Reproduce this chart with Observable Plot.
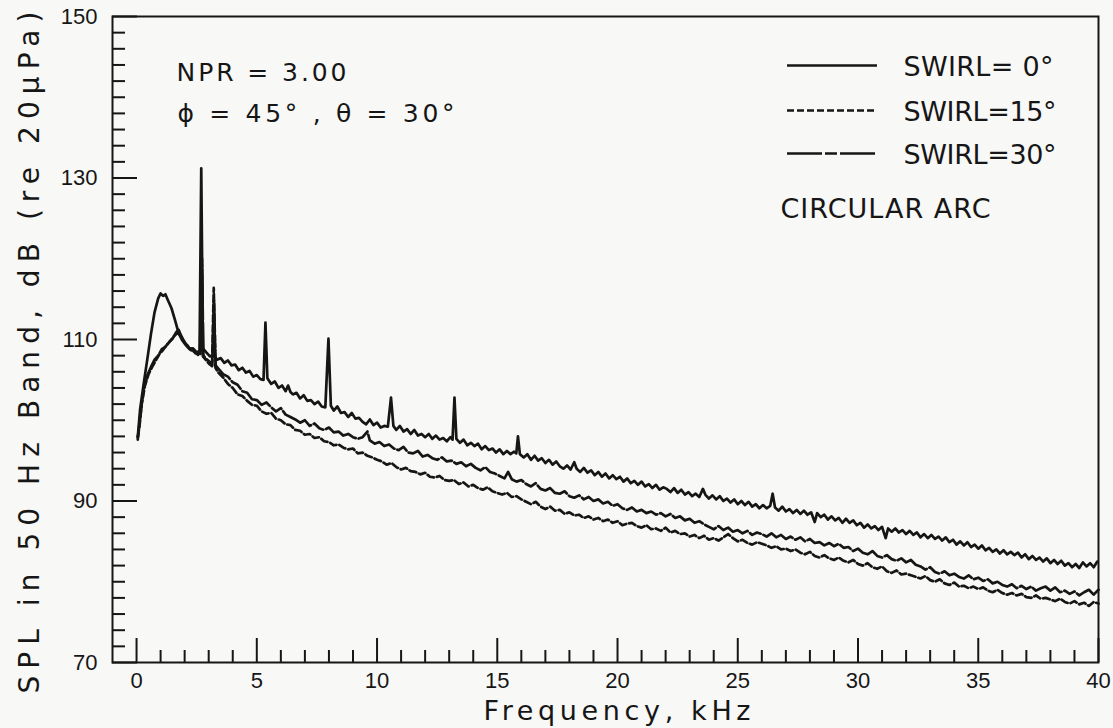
<!DOCTYPE html>
<html><head><meta charset="utf-8">
<script src="https://cdn.jsdelivr.net/npm/d3@7"></script>
<script src="https://cdn.jsdelivr.net/npm/@observablehq/plot@0.6"></script>
<style>html,body{margin:0;padding:0;background:#f8f8f6;}#chart{width:1113px;height:728px;}</style>
</head><body><div id="chart"></div>
<script>
// ---------------- DATA ----------------
const seriesLabels = ["SWIRL= 0°", "SWIRL=15°", "SWIRL=30°"];
const xMajor = [0, 5, 10, 15, 20, 25, 30, 35, 40];
const yMajor = [70, 90, 110, 130, 150];
const xTitle = "Frequency, kHz";
const yTitle = "SPL in 50 Hz Band, dB (re 20μPa)";
const noteLines = ["NPR = 3.00", "ϕ = 45° , θ = 30°"];
const configLabel = "CIRCULAR ARC";

// [frequency kHz, SPL dB]
const swirl0 = [[0.05,97.9],[0.15,101.4],[0.3,104.6],[0.45,107.6],[0.6,110.7],[0.75,113.4],[0.9,115.1],[1.0,115.7],[1.1,115.4],[1.2,115.6],[1.3,114.9],[1.45,113.9],[1.6,112.4],[1.75,110.8],[1.9,109.9],[2.05,109.3],[2.2,108.8],[2.35,108.9],[2.5,108.4],[2.62,108.6],[2.69,131.2],[2.76,108.9],[2.9,108.4],[3.05,107.9],[3.2,108.1],[3.35,107.5],[3.5,107.7],[3.65,107.1],[3.8,107.4],[3.95,106.8],[4.1,106.9],[4.25,106.2],[4.4,106.5],[4.55,105.9],[4.7,106.1],[4.85,105.4],[5.0,105.6],[5.15,105.1],[5.28,105.0],[5.36,112.1],[5.44,105.2],[5.6,104.5],[5.75,104.8],[5.9,104.0],[6.05,104.3],[6.2,103.6],[6.3,104.3],[6.4,103.5],[6.5,103.2],[6.65,103.4],[6.8,102.7],[6.95,103.1],[7.1,102.4],[7.25,102.5],[7.4,102.0],[7.55,102.3],[7.7,101.7],[7.85,101.6],[7.98,110.1],[8.08,101.8],[8.2,101.2],[8.35,101.7],[8.5,100.9],[8.65,101.0],[8.8,100.4],[8.95,100.9],[9.1,100.2],[9.25,100.3],[9.4,99.8],[9.55,99.5],[9.7,100.1],[9.85,99.4],[10.0,99.7],[10.15,99.1],[10.3,99.3],[10.45,99.2],[10.58,102.8],[10.68,99.3],[10.8,98.8],[10.95,99.3],[11.1,98.6],[11.25,98.9],[11.4,98.3],[11.55,98.8],[11.7,98.1],[11.85,98.3],[12.0,97.9],[12.15,98.3],[12.3,97.7],[12.45,98.1],[12.6,97.6],[12.75,97.8],[12.9,97.4],[13.05,97.9],[13.14,97.6],[13.22,102.8],[13.3,97.7],[13.45,97.2],[13.6,97.6],[13.75,96.9],[13.9,97.2],[14.05,96.8],[14.2,97.1],[14.35,96.4],[14.5,96.8],[14.65,96.3],[14.8,96.5],[14.95,96.0],[15.1,96.4],[15.25,95.8],[15.4,96.2],[15.55,95.8],[15.7,96.1],[15.79,95.9],[15.86,98.0],[15.94,95.8],[16.1,95.4],[16.25,95.8],[16.4,95.1],[16.55,95.6],[16.7,95.0],[16.85,95.3],[17.0,94.7],[17.15,95.1],[17.3,94.5],[17.45,94.9],[17.6,94.3],[17.75,94.0],[17.9,94.4],[18.05,93.9],[18.2,94.8],[18.3,94.0],[18.45,93.6],[18.6,94.1],[18.75,93.5],[18.9,93.8],[19.05,93.2],[19.2,93.6],[19.35,93.0],[19.5,93.4],[19.65,92.8],[19.8,93.2],[19.95,92.7],[20.1,93.0],[20.25,92.4],[20.4,92.8],[20.55,92.2],[20.7,92.5],[20.85,92.0],[21.0,92.4],[21.15,91.8],[21.3,92.1],[21.45,91.6],[21.6,92.0],[21.75,91.4],[21.9,91.7],[22.05,91.5],[22.2,91.1],[22.35,91.6],[22.5,91.0],[22.65,91.4],[22.8,90.8],[22.95,91.1],[23.1,90.6],[23.25,90.9],[23.4,90.5],[23.55,91.5],[23.65,90.8],[23.8,90.3],[23.95,90.7],[24.1,90.2],[24.25,90.6],[24.4,90.0],[24.55,90.3],[24.7,89.8],[24.85,90.2],[25.0,89.6],[25.15,90.0],[25.3,89.5],[25.45,89.9],[25.6,89.3],[25.75,89.6],[25.9,89.1],[26.05,89.5],[26.2,89.1],[26.35,89.4],[26.45,90.9],[26.55,89.2],[26.7,88.8],[26.85,89.3],[27.0,88.7],[27.15,89.0],[27.3,88.5],[27.45,88.9],[27.6,88.4],[27.75,88.8],[27.9,88.3],[28.05,88.6],[28.2,87.4],[28.3,88.5],[28.45,88.0],[28.6,88.3],[28.75,87.7],[28.9,88.1],[29.05,87.6],[29.2,87.9],[29.35,87.3],[29.5,87.8],[29.65,87.3],[29.8,87.6],[29.95,87.0],[30.1,87.3],[30.25,86.7],[30.4,87.1],[30.55,86.6],[30.7,86.9],[30.85,86.4],[31.0,86.8],[31.15,85.4],[31.25,86.6],[31.4,86.2],[31.55,86.6],[31.7,86.1],[31.85,86.4],[32.0,85.9],[32.15,86.3],[32.3,85.8],[32.45,86.1],[32.6,85.5],[32.75,85.9],[32.9,85.4],[33.05,85.8],[33.2,85.3],[33.35,85.6],[33.5,85.1],[33.65,85.5],[33.8,84.9],[33.95,85.2],[34.1,84.6],[34.25,85.0],[34.4,84.5],[34.55,84.9],[34.7,84.3],[34.85,84.6],[35.0,84.1],[35.15,84.5],[35.3,83.9],[35.45,84.2],[35.6,83.7],[35.75,84.0],[35.9,83.5],[36.05,83.9],[36.2,83.4],[36.35,83.7],[36.5,83.3],[36.65,83.6],[36.8,83.0],[36.95,83.4],[37.1,82.8],[37.25,83.2],[37.4,82.7],[37.55,83.0],[37.7,82.5],[37.85,82.9],[38.0,82.3],[38.15,82.7],[38.3,82.2],[38.45,82.6],[38.6,82.0],[38.75,82.3],[38.9,81.8],[39.05,82.2],[39.2,81.7],[39.35,82.4],[39.5,81.9],[39.65,82.3],[39.8,81.8],[39.95,82.5]];

const swirl15 = [[0.05,97.9],[0.12,99.2],[0.22,102.1],[0.35,104.3],[0.5,105.7],[0.65,106.6],[0.8,107.4],[0.95,108.2],[1.1,108.7],[1.25,109.3],[1.4,109.8],[1.55,110.4],[1.7,110.8],[1.8,110.6],[1.95,109.9],[2.1,109.3],[2.25,108.7],[2.4,108.5],[2.55,108.1],[2.64,108.3],[2.7,122.0],[2.76,107.9],[2.9,107.4],[3.05,106.9],[3.14,106.7],[3.21,116.4],[3.28,106.5],[3.4,105.9],[3.6,105.3],[3.8,104.5],[4.0,104.0],[4.2,103.2],[4.4,103.0],[4.6,102.4],[4.8,101.9],[5.0,101.8],[5.2,101.1],[5.4,100.8],[5.6,100.9],[5.8,100.2],[6.0,100.0],[6.2,99.5],[6.4,99.4],[6.6,98.8],[6.8,98.7],[7.0,98.2],[7.2,98.3],[7.4,97.8],[7.6,97.9],[7.8,97.4],[8.0,97.3],[8.2,96.9],[8.4,97.0],[8.6,96.6],[8.8,96.4],[9.0,96.5],[9.2,95.9],[9.4,96.0],[9.6,95.6],[9.8,95.4],[10.0,95.1],[10.2,94.9],[10.4,94.5],[10.6,94.7],[10.8,94.2],[11.0,93.9],[11.2,94.1],[11.4,93.7],[11.6,93.6],[11.8,93.3],[12.0,93.5],[12.2,93.0],[12.4,92.9],[12.6,93.1],[12.8,92.6],[13.0,92.5],[13.2,92.6],[13.4,92.1],[13.6,92.3],[13.8,91.8],[14.0,92.0],[14.2,91.6],[14.4,91.4],[14.6,91.7],[14.8,91.2],[15.0,91.0],[15.2,90.8],[15.4,91.0],[15.6,90.5],[15.8,90.6],[16.0,90.2],[16.2,89.9],[16.4,89.6],[16.6,89.9],[16.8,89.3],[17.0,89.0],[17.2,89.3],[17.4,88.8],[17.6,88.9],[17.8,88.4],[18.0,88.6],[18.2,88.2],[18.4,88.3],[18.6,87.9],[18.8,88.1],[19.0,87.7],[19.2,87.9],[19.4,87.5],[19.6,87.7],[19.8,87.3],[20.0,87.5],[20.2,87.0],[20.4,87.2],[20.6,87.3],[20.8,86.9],[21.0,86.7],[21.2,87.0],[21.4,86.5],[21.6,86.6],[21.8,86.3],[22.0,86.7],[22.2,86.1],[22.4,86.3],[22.6,85.9],[22.8,86.0],[23.0,85.6],[23.2,85.8],[23.4,85.4],[23.6,85.7],[23.8,85.2],[24.0,85.4],[24.2,85.1],[24.4,85.5],[24.6,85.9],[24.8,85.4],[25.0,85.0],[25.2,85.2],[25.4,84.8],[25.6,84.6],[25.8,84.9],[26.0,84.7],[26.2,84.5],[26.4,84.2],[26.6,84.4],[26.8,84.0],[27.0,84.1],[27.2,83.8],[27.4,84.0],[27.6,83.6],[27.8,83.4],[28.0,83.7],[28.2,83.2],[28.4,83.0],[28.6,83.3],[28.8,82.9],[29.0,82.7],[29.2,83.0],[29.4,82.6],[29.6,82.4],[29.8,82.7],[30.0,82.2],[30.2,82.0],[30.4,82.3],[30.6,81.8],[30.8,81.6],[31.0,81.9],[31.2,81.3],[31.4,81.1],[31.6,81.4],[31.8,80.9],[32.0,81.0],[32.2,80.8],[32.4,80.6],[32.6,80.4],[32.8,80.7],[33.0,80.2],[33.2,80.0],[33.4,80.3],[33.6,79.8],[33.8,79.6],[34.0,79.9],[34.2,79.4],[34.4,79.5],[34.6,79.2],[34.8,79.4],[35.0,79.1],[35.2,79.3],[35.4,78.9],[35.6,78.7],[35.8,79.0],[36.0,78.6],[36.2,78.4],[36.4,78.6],[36.6,78.3],[36.8,78.5],[37.0,78.1],[37.2,78.0],[37.4,78.3],[37.6,77.9],[37.8,78.0],[38.0,77.8],[38.2,77.6],[38.4,77.9],[38.6,77.5],[38.8,77.3],[39.0,77.6],[39.2,77.2],[39.4,77.4],[39.6,77.0],[39.8,77.5],[40.0,77.3]];

const swirl30 = [[0.05,97.6],[0.15,100.4],[0.3,103.9],[0.45,105.6],[0.6,106.6],[0.75,107.5],[0.9,108.0],[1.05,108.8],[1.2,109.1],[1.35,109.7],[1.5,110.1],[1.65,110.9],[1.75,111.2],[1.85,110.5],[2.0,109.6],[2.15,109.1],[2.3,108.8],[2.45,108.3],[2.6,108.5],[2.66,108.1],[2.72,120.0],[2.78,108.0],[2.9,107.6],[3.05,107.2],[3.15,106.9],[3.22,114.8],[3.29,106.8],[3.4,106.4],[3.6,105.7],[3.8,105.4],[4.0,104.7],[4.2,104.4],[4.4,103.6],[4.6,103.4],[4.8,102.6],[5.0,102.5],[5.2,101.9],[5.4,102.2],[5.6,101.6],[5.8,101.1],[6.0,101.5],[6.2,100.7],[6.4,100.4],[6.6,100.1],[6.8,99.7],[7.0,100.0],[7.2,99.3],[7.4,99.6],[7.6,99.0],[7.8,98.8],[8.0,99.1],[8.2,98.5],[8.4,98.6],[8.6,98.1],[8.8,98.3],[9.0,97.9],[9.2,97.7],[9.4,97.9],[9.6,98.6],[9.7,97.5],[9.9,97.1],[10.1,97.3],[10.3,96.8],[10.5,97.0],[10.7,96.5],[10.9,96.3],[11.1,96.7],[11.3,96.0],[11.5,95.9],[11.7,96.2],[11.9,95.5],[12.1,95.7],[12.3,95.3],[12.5,95.1],[12.7,95.4],[12.9,94.9],[13.1,95.0],[13.3,94.6],[13.5,94.8],[13.7,94.3],[13.9,94.6],[14.1,94.1],[14.3,93.8],[14.5,94.2],[14.7,93.6],[14.9,93.4],[15.1,93.1],[15.3,92.8],[15.45,93.6],[15.6,92.7],[15.8,92.4],[16.0,92.6],[16.2,92.1],[16.4,91.8],[16.6,92.2],[16.8,91.5],[17.0,91.3],[17.2,91.6],[17.4,91.0],[17.6,90.9],[17.8,91.2],[18.0,90.6],[18.2,90.4],[18.4,90.7],[18.6,90.2],[18.8,90.5],[19.0,90.0],[19.2,90.2],[19.4,89.7],[19.6,89.9],[19.8,89.4],[20.0,89.6],[20.2,89.1],[20.4,88.9],[20.6,89.2],[20.8,88.7],[21.0,88.9],[21.2,88.5],[21.4,88.7],[21.6,88.3],[21.8,88.5],[22.0,88.1],[22.2,88.4],[22.4,87.9],[22.6,88.1],[22.8,87.6],[23.0,87.8],[23.2,87.3],[23.4,87.5],[23.6,87.1],[23.8,86.8],[24.0,86.5],[24.2,86.9],[24.4,86.4],[24.6,86.7],[24.8,86.2],[25.0,86.4],[25.2,86.0],[25.4,86.3],[25.6,85.8],[25.8,86.1],[26.0,85.9],[26.2,85.6],[26.4,86.0],[26.6,85.5],[26.8,85.8],[27.0,85.3],[27.2,85.6],[27.4,85.2],[27.6,85.5],[27.8,85.0],[28.0,85.3],[28.2,84.8],[28.4,84.9],[28.6,84.5],[28.8,84.8],[29.0,84.4],[29.2,84.7],[29.4,84.2],[29.6,84.3],[29.8,83.8],[30.0,84.1],[30.2,83.6],[30.4,83.4],[30.6,83.8],[30.8,83.2],[31.0,83.0],[31.2,83.3],[31.4,82.8],[31.6,82.6],[31.8,82.9],[32.0,82.4],[32.2,82.7],[32.4,82.1],[32.6,81.9],[32.8,81.5],[33.0,81.8],[33.2,81.2],[33.4,81.0],[33.6,81.3],[33.8,80.8],[34.0,81.0],[34.2,80.6],[34.4,80.4],[34.6,80.8],[34.8,80.3],[35.0,80.5],[35.2,80.1],[35.4,80.3],[35.6,79.8],[35.8,80.0],[36.0,79.6],[36.2,79.4],[36.4,79.7],[36.6,79.2],[36.8,79.5],[37.0,79.1],[37.2,79.4],[37.4,78.9],[37.6,79.2],[37.8,79.4],[38.0,78.9],[38.2,79.3],[38.4,78.7],[38.6,78.9],[38.8,78.5],[39.0,78.8],[39.2,78.3],[39.4,78.7],[39.6,79.0],[39.8,78.4],[40.0,79.0]];

// ---------------- LAYOUT ----------------
const W = 1113, H = 728;
const M = {left: 112, right: 15, top: 16, bottom: 66};
const xDomain = [-1, 40], yDomain = [70, 150];
const pxPerX = (W - M.left - M.right) / (xDomain[1] - xDomain[0]);
const pxPerY = (H - M.top - M.bottom) / (yDomain[1] - yDomain[0]);
const toX = px => xDomain[0] + (px - M.left) / pxPerX;
const toY = py => yDomain[1] - (py - M.top) / pxPerY;
const ink = "#161616";
const lw = 2.7;
const dashes = [null, "7,3", "35,3,12,3"];
const labelFont = "'DejaVu Sans', sans-serif";

const xMinor = d3.range(0, 41).filter(v => v % 5 !== 0);
const yMinor = d3.range(72, 150, 2).filter(v => (v - 70) % 20 !== 0);
const rows = p => p.map(([f, spl]) => ({f, spl}));
const series = [swirl0, swirl15, swirl30];

const legendY = [65, 110, 153];
const legendTextY = [75, 120, 163];

const txt = (s, o) => Plot.text([s], {text: d => d, frameAnchor: "top-left", textAnchor: "start", lineAnchor: "bottom", fill: ink, fontFamily: labelFont, ...o});

const marks = [];
// ticks (inward)
marks.push(Plot.ruleX(xMinor, {y1: 70, y2: 70 + 12 / pxPerY, stroke: ink, strokeWidth: 2}));
marks.push(Plot.ruleX(xMajor, {y1: 70, y2: 70 + 24 / pxPerY, stroke: ink, strokeWidth: 2}));
marks.push(Plot.ruleY(yMinor, {x1: -1, x2: -1 + 13 / pxPerX, stroke: ink, strokeWidth: 2}));
marks.push(Plot.ruleY(yMajor, {x1: -1, x2: -1 + 25 / pxPerX, stroke: ink, strokeWidth: 2}));
// tick labels
marks.push(Plot.axisX(xMajor, {tickSize: 0, tickPadding: 10, fontSize: 22, label: null, fill: ink}));
marks.push(Plot.axisY(yMajor, {tickSize: 0, tickPadding: 15, fontSize: 22, label: null, fill: ink}));
// curves
series.forEach((s, i) => {
  marks.push(Plot.line(rows(s), {x: "f", y: "spl", stroke: ink, strokeWidth: lw, strokeDasharray: dashes[i], strokeLinejoin: "round"}));
});
// legend
series.forEach((s, i) => {
  marks.push(Plot.ruleY([toY(legendY[i])], {x1: toX(787), x2: toX(877), stroke: ink, strokeWidth: lw, strokeDasharray: dashes[i]}));
  marks.push(txt(seriesLabels[i], {dx: 903 - M.left, dy: legendTextY[i] - M.top, fontSize: 27}));
});
marks.push(txt(configLabel, {dx: 780 - M.left, dy: 217 - M.top, fontSize: 27}));
// notes
marks.push(txt(noteLines[0], {dx: 176 - M.left, dy: 80 - M.top, fontSize: 25}));
marks.push(txt(noteLines[1], {dx: 177 - M.left, dy: 121 - M.top, fontSize: 25}));
// axis titles
marks.push(Plot.text([xTitle], {text: d => d, frameAnchor: "bottom-left", textAnchor: "start", dx: 483 - M.left, dy: 719 - (H - M.bottom), lineAnchor: "bottom", fontSize: 27, fill: ink, fontFamily: labelFont}));
marks.push(Plot.text([yTitle], {text: d => d, frameAnchor: "bottom-left", textAnchor: "start", rotate: -90, dx: 38 - M.left, dy: 693 - (H - M.bottom), lineAnchor: "bottom", fontSize: 28, fill: ink, fontFamily: labelFont}));
marks.push(Plot.frame({stroke: ink, strokeWidth: 2}));

const chart = Plot.plot({
  width: W, height: H,
  marginLeft: M.left, marginRight: M.right, marginTop: M.top, marginBottom: M.bottom,
  x: {domain: xDomain},
  y: {domain: yDomain},
  style: {background: "#f8f8f6", fontFamily: "'Liberation Sans', Arial, sans-serif", color: ink},
  marks
});

const stretch = new Map([
  [yTitle, 682], [xTitle, 267], [noteLines[0], 170], [noteLines[1], 277],
  [seriesLabels[0], 150], [seriesLabels[1], 153], [seriesLabels[2], 153], [configLabel, 210]
]);
d3.select(chart).selectAll("text").each(function () {
  const L = stretch.get(this.textContent);
  if (L) d3.select(this).attr("textLength", L).attr("lengthAdjust", "spacing");
});
document.getElementById("chart").appendChild(chart);
</script></body></html>
